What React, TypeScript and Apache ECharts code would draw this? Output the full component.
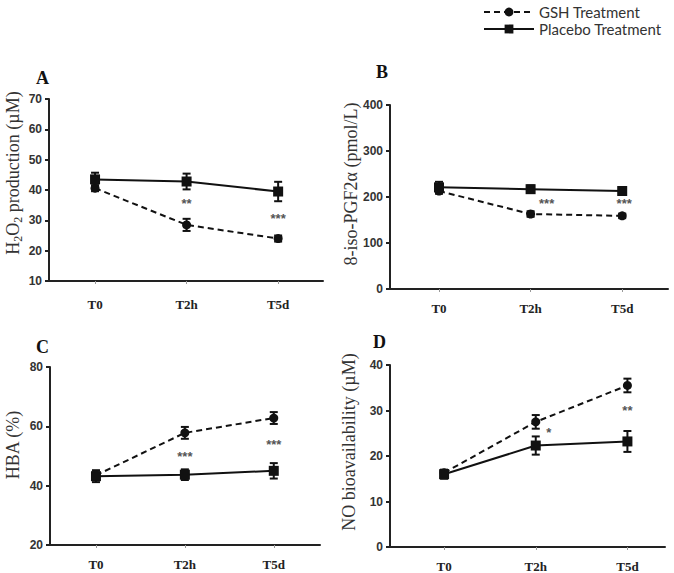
import React, { useEffect, useRef } from "react";
import * as echarts from "echarts";

const categories = ["T0", "T2h", "T5d"];
const seriesNames = ["GSH Treatment", "Placebo Treatment"];

// Panel A: H2O2 production (µM)
const gshA = [40.6, 28.5, 24.0];
const gshErrA = [1.0, 2.0, 1.0];
const placeboA = [43.5, 42.8, 39.5];
const placeboErrA = [2.2, 2.6, 3.2];
const sigA = [
  { x: 1, y: 35.4, text: "**", dx: 0 },
  { x: 2, y: 30.5, text: "***", dx: 0 },
];

// Panel B: 8-iso-PGF2α (pmol/L)
const gshB = [213, 163, 159];
const gshErrB = [6, 6, 5];
const placeboB = [221, 217, 213];
const placeboErrB = [12, 8, 8];
const sigB = [
  { x: 1, y: 185, text: "***", dx: 16 },
  { x: 2, y: 185, text: "***", dx: 2 },
];

// Panel C: HBA (%)
const gshC = [43.5, 57.8, 62.8];
const gshErrC = [1.5, 2.0, 2.0];
const placeboC = [43.2, 43.7, 45.0];
const placeboErrC = [2.0, 1.8, 2.6];
const sigC = [
  { x: 1, y: 50, text: "***", dx: 0 },
  { x: 2, y: 53.8, text: "***", dx: 0 },
];

// Panel D: NO bioavailability (µM)
const gshD = [16.3, 27.5, 35.5];
const gshErrD = [0.6, 1.5, 1.5];
const placeboD = [16.0, 22.3, 23.2];
const placeboErrD = [1.0, 2.0, 2.3];
const sigD = [
  { x: 1, y: 25.1, text: "*", dx: 13 },
  { x: 2, y: 29.9, text: "**", dx: 0 },
];

const yTicksA = { min: 10, max: 70, interval: 10 };
const yTicksB = { min: 0, max: 400, interval: 100 };
const yTicksC = { min: 20, max: 80, interval: 20 };
const yTicksD = { min: 0, max: 40, interval: 10 };

const INK = "#111";

const panels = [
  {
    gsh: gshA, gshErr: gshErrA, placebo: placeboA, placeboErr: placeboErrA, sig: sigA, y: yTicksA,
    grid: { left: 49, top: 99, width: 274, height: 182 }, xmin: -0.503, xmax: 2.49, labelMargin: 17,
  },
  {
    gsh: gshB, gshErr: gshErrB, placebo: placeboB, placeboErr: placeboErrB, sig: sigB, y: yTicksB,
    grid: { left: 390, top: 105, width: 278, height: 184 }, xmin: -0.535, xmax: 2.5, labelMargin: 13,
  },
  {
    gsh: gshC, gshErr: gshErrC, placebo: placeboC, placeboErr: placeboErrC, sig: sigC, y: yTicksC,
    grid: { left: 50, top: 367, width: 270, height: 178 }, xmin: -0.517, xmax: 2.52, labelMargin: 13,
  },
  {
    gsh: gshD, gshErr: gshErrD, placebo: placeboD, placeboErr: placeboErrD, sig: sigD, y: yTicksD,
    grid: { left: 390, top: 365, width: 275, height: 182 }, xmin: -0.59, xmax: 2.41, labelMargin: 13,
  },
];

function buildOption() {
  const grid: any[] = [];
  const xAxis: any[] = [];
  const yAxis: any[] = [];
  const series: any[] = [];

  panels.forEach((p, i) => {
    grid.push({ ...p.grid, containLabel: false });
    xAxis.push({
      type: "value",
      gridIndex: i,
      min: p.xmin,
      max: p.xmax,
      splitLine: { show: false },
      axisLine: { show: true, onZero: false, lineStyle: { color: "#222", width: 2 } },
      axisTick: { show: true, customValues: [0, 1, 2], length: 3, lineStyle: { color: "#999", width: 1 } },
      axisLabel: {
        customValues: [0, 1, 2],
        formatter: (v: number) => categories[Math.round(v)] ?? "",
        margin: p.labelMargin,
        fontFamily: "Liberation Serif",
        fontWeight: "bold",
        fontSize: 13,
        color: "#222",
      },
    });
    yAxis.push({
      type: "value",
      gridIndex: i,
      min: p.y.min,
      max: p.y.max,
      interval: p.y.interval,
      splitLine: { show: false },
      axisLine: { show: true, onZero: false, lineStyle: { color: "#222", width: 2 } },
      axisTick: { show: true, length: 4, lineStyle: { color: "#222", width: 2 } },
      axisLabel: {
        margin: 7,
        fontFamily: "Liberation Sans",
        fontWeight: "bold",
        fontSize: 12,
        color: "#333",
      },
    });

    const errData = (vals: number[], errs: number[]) =>
      vals.map((v, k) => [k, v - errs[k], v + errs[k]]);
    const errSeries = (vals: number[], errs: number[]) => ({
      type: "custom",
      xAxisIndex: i,
      yAxisIndex: i,
      silent: true,
      z: 3,
      data: errData(vals, errs),
      encode: { x: 0, y: [1, 2] },
      renderItem: (params: any, api: any) => {
        const x = api.value(0);
        const lo = api.coord([x, api.value(1)]);
        const hi = api.coord([x, api.value(2)]);
        const half = 4;
        const st = { stroke: INK, lineWidth: 2 };
        return {
          type: "group",
          children: [
            { type: "line", shape: { x1: lo[0], y1: lo[1], x2: hi[0], y2: hi[1] }, style: st },
            { type: "line", shape: { x1: lo[0] - half, y1: lo[1], x2: lo[0] + half, y2: lo[1] }, style: st },
            { type: "line", shape: { x1: hi[0] - half, y1: hi[1], x2: hi[0] + half, y2: hi[1] }, style: st },
          ],
        };
      },
    });
    series.push(errSeries(p.gsh, p.gshErr));
    series.push(errSeries(p.placebo, p.placeboErr));

    series.push({
      type: "line",
      name: seriesNames[0],
      xAxisIndex: i,
      yAxisIndex: i,
      z: 4,
      data: p.gsh.map((v, k) => [k, v]),
      symbol: "circle",
      symbolSize: 9,
      showSymbol: true,
      lineStyle: { color: INK, width: 2, type: [6, 4] },
      itemStyle: { color: INK },
    });
    series.push({
      type: "line",
      name: seriesNames[1],
      xAxisIndex: i,
      yAxisIndex: i,
      z: 5,
      data: p.placebo.map((v, k) => [k, v]),
      symbol: "rect",
      symbolSize: 10,
      showSymbol: true,
      lineStyle: { color: INK, width: 2, type: "solid" },
      itemStyle: { color: INK },
    });

    const sig = p.sig;
    series.push({
      type: "custom",
      xAxisIndex: i,
      yAxisIndex: i,
      silent: true,
      z: 6,
      data: sig.map((s) => [s.x, s.y]),
      renderItem: (params: any, api: any) => {
        const pt = api.coord([api.value(0), api.value(1)]);
        const s = sig[params.dataIndex];
        return {
          type: "text",
          x: pt[0] + s.dx,
          y: pt[1],
          style: {
            text: s.text,
            align: "center",
            verticalAlign: "middle",
            fontFamily: "Liberation Sans",
            fontSize: 13,
            fontWeight: "bold",
            fill: "#555",
          },
        };
      },
    });
  });

  const titleStyle = {
    fontFamily: "Liberation Serif",
    fontSize: 18,
    fill: "#333",
    align: "center",
    verticalAlign: "middle",
  };
  const letterStyle = {
    fontFamily: "Liberation Serif",
    fontSize: 18,
    fontWeight: "bold",
    fill: "#111",
    align: "left",
    verticalAlign: "middle",
  };

  const graphic: any[] = [
    {
      type: "text",
      x: 13,
      y: 173,
      rotation: Math.PI / 2,
      style: {
        ...titleStyle,
        text: "{n|H}{s|2}{n|O}{s|2}{n| production (µM)}",
        rich: {
          n: { fontFamily: "Liberation Serif", fontSize: 18, fill: "#333", lineHeight: 22 },
          s: { fontFamily: "Liberation Serif", fontSize: 12, fill: "#333", lineHeight: 22, padding: [10, 0, 0, 0] },
        },
      },
    },
    { type: "text", x: 351, y: 184, rotation: Math.PI / 2, style: { ...titleStyle, text: "8-iso-PGF2α (pmol/L)" } },
    { type: "text", x: 13, y: 445, rotation: Math.PI / 2, style: { ...titleStyle, text: "HBA (%)" } },
    { type: "text", x: 349, y: 442, rotation: Math.PI / 2, style: { ...titleStyle, text: "NO bioavailability (µM)" } },
    { type: "text", x: 36, y: 78, style: { ...letterStyle, text: "A" } },
    { type: "text", x: 376, y: 72, style: { ...letterStyle, text: "B" } },
    { type: "text", x: 36, y: 347, style: { ...letterStyle, text: "C" } },
    { type: "text", x: 373, y: 342, style: { ...letterStyle, text: "D" } },
  ];

  return {
    animation: false,
    backgroundColor: "#ffffff",
    legend: {
      orient: "vertical",
      left: 478,
      top: -1,
      itemWidth: 50,
      itemHeight: 11,
      itemGap: 1,
      selectedMode: false,
      data: seriesNames,
      textStyle: { fontFamily: "Lato", fontSize: 15, color: "#333", lineHeight: 16 },
    },
    grid,
    xAxis,
    yAxis,
    series,
    graphic,
  };
}

export default function App() {
  const ref = useRef<HTMLDivElement>(null);
  useEffect(() => {
    if (!ref.current) return;
    const chart = echarts.init(ref.current, undefined, { renderer: "svg" });
    chart.setOption(buildOption() as any);
    return () => chart.dispose();
  }, []);
  return (
    <div
      ref={ref}
      style={{ position: "fixed", left: 0, top: 0, width: 674, height: 573, background: "#fff" }}
    />
  );
}
